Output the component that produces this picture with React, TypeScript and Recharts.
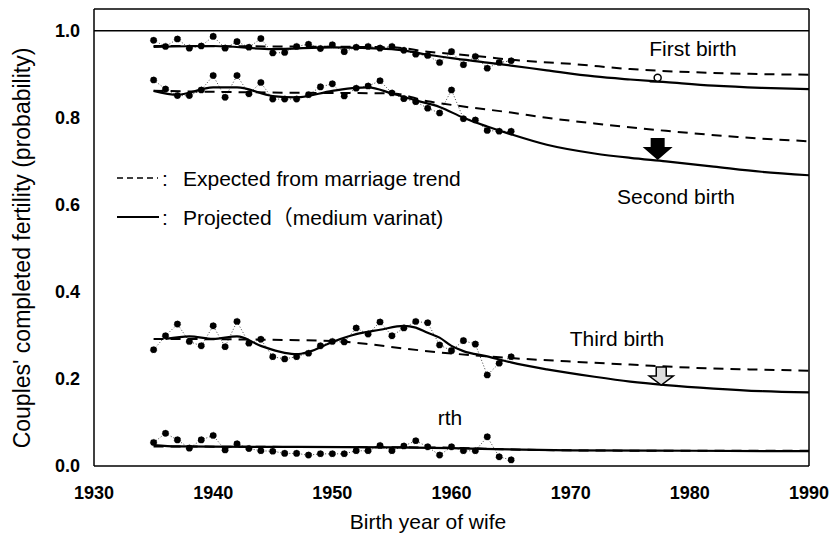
import React from "react";
import {
  ComposedChart,
  Line,
  XAxis,
  YAxis,
  ReferenceLine,
  ReferenceDot,
  Customized,
} from "recharts";

// observed cohorts (dots + dotted line)
const OBS_YEARS = [
  1935, 1936, 1937, 1938, 1939, 1940, 1941, 1942, 1943, 1944, 1945, 1946, 1947, 1948, 1949, 1950,
  1951, 1952, 1953, 1954, 1955, 1956, 1957, 1958, 1959, 1960, 1961, 1962, 1963, 1964, 1965,
];
const FIRST_OBS = [
  0.978, 0.964, 0.981, 0.96, 0.965, 0.987, 0.96, 0.975, 0.962, 0.982, 0.949, 0.95, 0.964, 0.969, 0.959, 0.968,
  0.952, 0.962, 0.964, 0.96, 0.964, 0.955, 0.946, 0.943, 0.927, 0.952, 0.922, 0.941, 0.914, 0.927, 0.931,
];
const SECOND_OBS = [
  0.887, 0.866, 0.851, 0.851, 0.864, 0.897, 0.847, 0.897, 0.855, 0.881, 0.843, 0.843, 0.843, 0.853, 0.871, 0.878,
  0.85, 0.868, 0.873, 0.885, 0.857, 0.844, 0.837, 0.822, 0.811, 0.864, 0.798, 0.795, 0.771, 0.769, 0.769,
];
const THIRD_OBS = [
  0.267, 0.299, 0.326, 0.286, 0.276, 0.322, 0.274, 0.332, 0.282, 0.291, 0.251, 0.246, 0.251, 0.259, 0.276, 0.286,
  0.285, 0.317, 0.303, 0.331, 0.299, 0.317, 0.332, 0.329, 0.278, 0.265, 0.288, 0.28, 0.209, 0.236, 0.251,
];
const FOURTH_OBS = [
  0.054, 0.075, 0.06, 0.041, 0.06, 0.07, 0.037, 0.051, 0.04, 0.035, 0.034, 0.029, 0.029, 0.025, 0.028, 0.028,
  0.028, 0.035, 0.035, 0.047, 0.035, 0.046, 0.058, 0.044, 0.025, 0.044, 0.035, 0.035, 0.067, 0.021, 0.014,
];

// projected (medium variant) - solid
const PROJ_FIRST_YEARS = [1935, 1940, 1945, 1950, 1955, 1958, 1960, 1963, 1965, 1968, 1972, 1975, 1978, 1982, 1986, 1990];
const PROJ_FIRST = [0.963, 0.965, 0.958, 0.962, 0.958, 0.945, 0.937, 0.927, 0.92, 0.909, 0.895, 0.888, 0.882, 0.874, 0.869, 0.866];
const PROJ_SECOND_YEARS = [
  1935, 1937, 1940, 1942, 1945, 1947, 1950, 1952, 1953, 1955, 1957, 1959, 1961, 1963, 1965, 1968, 1972, 1975, 1978, 1982, 1986, 1990,
];
const PROJ_SECOND = [
  0.862, 0.853, 0.87, 0.87, 0.85, 0.847, 0.862, 0.869, 0.87, 0.856, 0.84, 0.825, 0.8, 0.78, 0.762, 0.738, 0.718, 0.708, 0.7, 0.688, 0.676, 0.668,
];
const PROJ_THIRD_YEARS = [
  1936, 1938, 1940, 1942, 1944, 1946, 1947, 1948, 1950, 1952, 1954, 1956, 1957, 1958, 1959, 1960, 1961, 1963, 1965, 1968, 1972, 1975, 1978,
  1982, 1986, 1990,
];
const PROJ_THIRD = [
  0.292, 0.298, 0.292, 0.298, 0.276, 0.26, 0.257, 0.262, 0.285, 0.303, 0.313, 0.322, 0.318, 0.306, 0.295, 0.276, 0.264, 0.252, 0.238, 0.222,
  0.205, 0.194, 0.186, 0.178, 0.172, 0.169,
];
const PROJ_FOURTH_YEARS = [1935, 1937, 1945, 1955, 1960, 1965, 1970, 1980, 1990];
const PROJ_FOURTH = [0.048, 0.045, 0.044, 0.043, 0.041, 0.038, 0.036, 0.035, 0.034];

// expected from marriage trend - dashed
const EXP_FIRST_YEARS = [1935, 1945, 1955, 1958, 1962, 1966, 1970, 1975, 1980, 1985, 1990];
const EXP_FIRST = [0.965, 0.964, 0.962, 0.952, 0.942, 0.931, 0.924, 0.912, 0.905, 0.901, 0.899];
const EXP_SECOND_YEARS = [1935, 1945, 1955, 1958, 1961, 1965, 1968, 1972, 1978, 1984, 1990];
const EXP_SECOND = [0.862, 0.858, 0.856, 0.838, 0.826, 0.812, 0.8, 0.787, 0.77, 0.756, 0.746];
const EXP_THIRD_YEARS = [1935, 1945, 1950, 1953, 1956, 1959, 1962, 1965, 1970, 1975, 1980, 1985, 1990];
const EXP_THIRD = [0.292, 0.29, 0.287, 0.28, 0.27, 0.261, 0.254, 0.248, 0.24, 0.233, 0.226, 0.222, 0.219];
const EXP_FOURTH_YEARS = [1935, 1945, 1955, 1960, 1965, 1970, 1980, 1990];
const EXP_FOURTH = [0.045, 0.044, 0.043, 0.042, 0.038, 0.036, 0.035, 0.035];

const X_TICKS = [1930, 1940, 1950, 1960, 1970, 1980, 1990];
const Y_TICKS = [0, 0.2, 0.4, 0.6, 0.8, 1.0];

const FONT = "'Liberation Sans', Arial, 'Noto Sans CJK JP', sans-serif";

const pts = (years: number[], vals: number[]) => years.map((year, i) => ({ year, v: vals[i] }));

const obsSeries = [FIRST_OBS, SECOND_OBS, THIRD_OBS, FOURTH_OBS].map((v) => pts(OBS_YEARS, v));
const projSeries = [
  pts(PROJ_FIRST_YEARS, PROJ_FIRST),
  pts(PROJ_SECOND_YEARS, PROJ_SECOND),
  pts(PROJ_THIRD_YEARS, PROJ_THIRD),
  pts(PROJ_FOURTH_YEARS, PROJ_FOURTH),
];
const expSeries = [
  pts(EXP_FIRST_YEARS, EXP_FIRST),
  pts(EXP_SECOND_YEARS, EXP_SECOND),
  pts(EXP_THIRD_YEARS, EXP_THIRD),
  pts(EXP_FOURTH_YEARS, EXP_FOURTH),
];

const txt = { fontFamily: FONT, fontSize: 21, fill: "#000" };

function Annotations() {
  return (
    <g>
      <text x={693} y={48} textAnchor="middle" dominantBaseline="central" style={txt}>
        First birth
      </text>
      <text x={676} y={196} textAnchor="middle" dominantBaseline="central" style={txt}>
        Second birth
      </text>
      <text x={617} y={338} textAnchor="middle" dominantBaseline="central" style={txt}>
        Third birth
      </text>
      <text x={450} y={417} textAnchor="middle" dominantBaseline="central" style={txt}>
        rth
      </text>
      {/* legend */}
      <line x1={117} y1={178} x2={158} y2={178} stroke="#000" strokeWidth={1.5} strokeDasharray="6 4" />
      <text x={162} y={178} dominantBaseline="central" style={txt}>:</text>
      <text x={183} y={178} dominantBaseline="central" style={txt}>
        Expected from marriage trend
      </text>
      <line x1={117} y1={217} x2={159} y2={217} stroke="#000" strokeWidth={2} />
      <text x={162} y={217} dominantBaseline="central" style={txt}>:</text>
      <text x={183} y={217} dominantBaseline="central" style={txt}>
        Projected（medium varinat)
      </text>
      {/* axis titles */}
      <text x={428} y={521} textAnchor="middle" dominantBaseline="central" style={txt}>
        Birth year of wife
      </text>
      <text
        x={22}
        y={248}
        textAnchor="middle"
        dominantBaseline="central"
        transform="rotate(-90 22 248)"
        style={{ ...txt, fontSize: 23 }}
      >
        Couples' completed fertility (probability)
      </text>
    </g>
  );
}

const openMarker = (p: any) => (
  <g>
    <line x1={p.cx - 8} y1={p.cy + 4} x2={p.cx + 8} y2={p.cy + 4} stroke="#000" strokeWidth={1.5} />
    <circle cx={p.cx} cy={p.cy} r={3.5} fill="#fff" stroke="#000" strokeWidth={1.5} />
  </g>
);

const blackArrow = (p: any) => (
  <path
    d={`M${p.cx - 7},${p.cy - 22} h14 v9 h8 L${p.cx},${p.cy} L${p.cx - 15},${p.cy - 13} h8 z`}
    fill="#000"
  />
);

const grayArrow = (p: any) => (
  <path
    d={`M${p.cx - 5},${p.cy - 18} h10 v9 h7 L${p.cx},${p.cy} L${p.cx - 12},${p.cy - 9} h7 z`}
    fill="#ddd"
    stroke="#000"
    strokeWidth={1.5}
  />
);

export default function App() {
  return (
    <div style={{ position: "absolute", left: 0, top: 0, width: 831, height: 536, background: "#fff" }}>
      <ComposedChart width={831} height={536} margin={{ top: 9, right: 22, bottom: 0, left: 0 }}>
        <XAxis
          type="number"
          dataKey="year"
          domain={[1930, 1990]}
          ticks={X_TICKS}
          allowDataOverflow
          height={70}
          tickLine={false}
          tickMargin={14}
          axisLine={{ stroke: "#000", strokeWidth: 1.5 }}
          tick={{ fontSize: 18, fontWeight: 700, fill: "#000", fontFamily: FONT }}
        />
        <YAxis
          type="number"
          domain={[0, 1.05]}
          ticks={Y_TICKS}
          allowDataOverflow
          width={94}
          tickLine={false}
          tickMargin={8}
          tickFormatter={(v: number) => v.toFixed(1)}
          axisLine={{ stroke: "#000", strokeWidth: 1.5 }}
          tick={{ fontSize: 18, fontWeight: 700, fill: "#000", fontFamily: FONT }}
        />
        <ReferenceLine y={1.05} stroke="#000" strokeWidth={1.5} />
        <ReferenceLine y={1.0} stroke="#000" strokeWidth={1.5} />
        <ReferenceLine x={1990} stroke="#000" strokeWidth={1.5} />

        {obsSeries.map((d, i) => (
          <Line
            key={`obs${i}`}
            data={d}
            dataKey="v"
            type="linear"
            stroke="#444"
            strokeWidth={1}
            strokeDasharray="1 2"
            dot={{ r: 3.3, fill: "#000", stroke: "#000", strokeWidth: 0.5 }}
            isAnimationActive={false}
          />
        ))}
        {expSeries.map((d, i) => (
          <Line
            key={`exp${i}`}
            data={d}
            dataKey="v"
            type="monotone"
            stroke="#000"
            strokeWidth={2}
            strokeDasharray="10 7"
            dot={false}
            isAnimationActive={false}
          />
        ))}
        {projSeries.map((d, i) => (
          <Line
            key={`proj${i}`}
            data={d}
            dataKey="v"
            type="monotone"
            stroke="#000"
            strokeWidth={2.2}
            dot={false}
            isAnimationActive={false}
          />
        ))}

        <ReferenceDot x={1977.3} y={0.892} shape={openMarker} />
        <ReferenceDot x={1977.3} y={0.703} shape={blackArrow} />
        <ReferenceDot x={1977.6} y={0.186} shape={grayArrow} />
        <Customized component={Annotations} />
      </ComposedChart>
    </div>
  );
}
